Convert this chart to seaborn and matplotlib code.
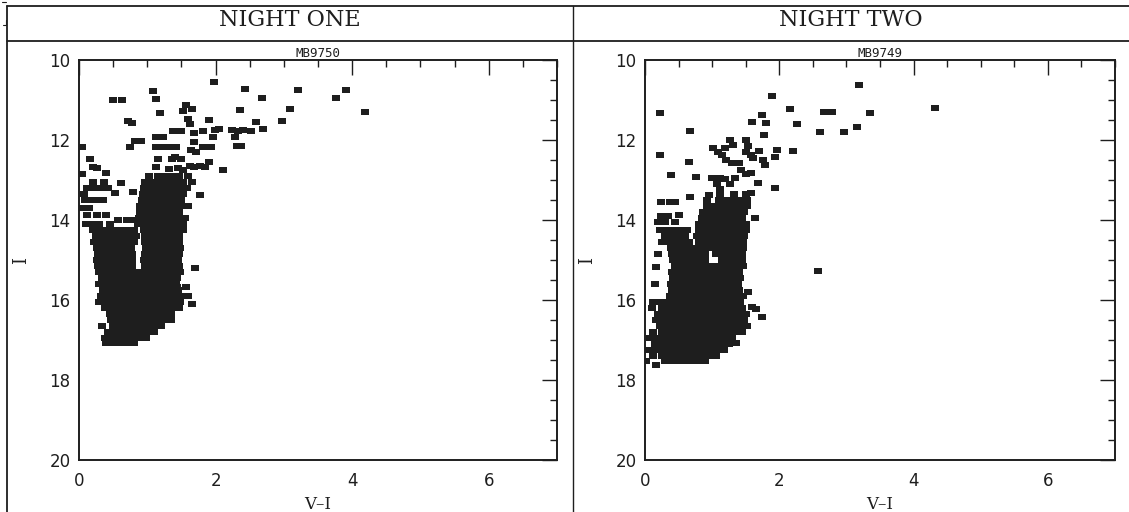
import matplotlib
matplotlib.use("Agg")
import matplotlib.pyplot as plt
from matplotlib.lines import Line2D
from matplotlib.ticker import MultipleLocator
import seaborn as sns
import pandas as pd

# ---------------- data (V-I, I) ----------------
panel_titles = ["NIGHT ONE", "NIGHT TWO"]
field_names = ["MB9750", "MB9749"]
x_ticks = [0, 2, 4, 6]
y_ticks = [10, 12, 14, 16, 18, 20]

night_one_bright = [
    (1.97, 10.55), (2.43, 10.73), (3.20, 10.75), (3.91, 10.75), (3.76, 10.94),
    (1.08, 10.77), (1.13, 10.98), (0.50, 11.00), (0.63, 11.00), (2.68, 10.96),
    (3.09, 11.23), (2.36, 11.25), (4.19, 11.31), (1.56, 11.12), (1.52, 11.27),
    (1.65, 11.23), (1.18, 11.33), (0.72, 11.52), (0.77, 11.58), (1.60, 11.48),
    (1.62, 11.60), (1.90, 11.50), (2.59, 11.54), (2.70, 11.73), (2.52, 11.77),
    (2.98, 11.52), (1.38, 11.77), (1.50, 11.77), (1.69, 11.83), (1.81, 11.78),
    (1.99, 11.75), (2.05, 11.73), (2.24, 11.75), (2.33, 11.77), (2.40, 11.75),
    (2.28, 11.92), (1.96, 11.93), (0.82, 12.02), (0.91, 12.02), (1.13, 11.92),
    (1.23, 11.92), (0.74, 12.18), (1.13, 12.17), (1.23, 12.17), (1.33, 12.17),
    (1.42, 12.17), (1.69, 12.04), (1.81, 12.17), (1.93, 12.17), (1.64, 12.25),
    (1.72, 12.29), (2.32, 12.15), (2.37, 12.15), (0.05, 12.18), (0.16, 12.48),
    (0.21, 12.68), (0.26, 12.71), (0.40, 12.83), (0.62, 13.08), (2.11, 12.75),
    (1.91, 12.55), (1.84, 12.67), (1.77, 12.65), (1.69, 12.68), (1.62, 12.65),
    (1.16, 12.48), (1.13, 12.67), (1.36, 12.47), (1.40, 12.42), (1.50, 12.47),
    (1.32, 12.73), (1.45, 12.70), (1.52, 12.75), (0.05, 12.85), (0.08, 13.35),
    (1.70, 15.21), (1.57, 15.67), (1.60, 15.90), (1.65, 16.10), (1.43, 15.67),
]

night_one_main = [
    # upper branch
    (1.02, 12.90), (1.15, 12.90), (1.28, 12.90), (1.36, 12.90), (1.47, 12.90), (1.60, 12.90),
    (0.97, 13.05), (1.08, 13.05), (1.20, 13.05), (1.30, 13.05), (1.41, 13.05), (1.52, 13.05), (1.66, 13.05),
    (0.95, 13.20), (1.04, 13.20), (1.14, 13.20), (1.25, 13.20), (1.35, 13.20), (1.46, 13.20), (1.58, 13.20),
    (0.93, 13.35), (1.03, 13.35), (1.13, 13.35), (1.22, 13.35), (1.32, 13.35), (1.42, 13.35), (1.52, 13.35), (1.77, 13.38),
    (0.92, 13.50), (1.01, 13.50), (1.10, 13.50), (1.20, 13.50), (1.30, 13.50), (1.40, 13.50), (1.50, 13.50),
    (0.90, 13.65), (1.00, 13.65), (1.09, 13.65), (1.19, 13.65), (1.28, 13.65), (1.38, 13.65), (1.48, 13.65), (1.60, 13.65),
    (0.90, 13.80), (0.99, 13.80), (1.08, 13.80), (1.18, 13.80), (1.27, 13.80), (1.37, 13.80), (1.46, 13.80),
    (0.88, 13.95), (0.97, 13.95), (1.07, 13.95), (1.16, 13.95), (1.26, 13.95), (1.36, 13.95), (1.45, 13.95), (1.55, 13.95),
    (0.86, 14.10), (0.95, 14.10), (1.05, 14.10), (1.14, 14.10), (1.24, 14.10), (1.33, 14.10), (1.43, 14.10), (1.52, 14.10),
    # left group
    (0.20, 13.05), (0.36, 13.05),
    (0.11, 13.20), (0.21, 13.20), (0.31, 13.20), (0.43, 13.20),
    (0.53, 13.33), (0.79, 13.29),
    (0.09, 13.50), (0.18, 13.50), (0.26, 13.50), (0.35, 13.50),
    (0.05, 13.70), (0.14, 13.70),
    (0.11, 13.87), (0.26, 13.87), (0.40, 13.87),
    (0.57, 14.00), (0.70, 14.00), (0.82, 14.00),
    (0.10, 14.10), (0.20, 14.10), (0.30, 14.10), (0.45, 14.10),
    # main sequence blob
    (0.21, 14.25), (0.30, 14.25), (0.40, 14.25), (0.50, 14.25), (0.60, 14.25), (0.70, 14.25), (0.80, 14.25),
    (0.95, 14.25), (1.05, 14.25), (1.15, 14.25), (1.25, 14.25), (1.35, 14.25), (1.45, 14.25), (1.52, 14.25),
    (0.25, 14.40), (0.35, 14.40), (0.45, 14.40), (0.55, 14.40), (0.65, 14.40), (0.75, 14.40), (0.83, 14.40),
    (0.96, 14.40), (1.06, 14.40), (1.16, 14.40), (1.26, 14.40), (1.36, 14.40), (1.46, 14.40),
    (0.22, 14.55), (0.32, 14.55), (0.42, 14.55), (0.52, 14.55), (0.62, 14.55), (0.72, 14.55), (0.80, 14.55),
    (0.97, 14.55), (1.07, 14.55), (1.17, 14.55), (1.27, 14.55), (1.37, 14.55), (1.47, 14.55),
    (0.26, 14.70), (0.36, 14.70), (0.46, 14.70), (0.56, 14.70), (0.66, 14.70), (0.76, 14.70),
    (0.98, 14.70), (1.08, 14.70), (1.18, 14.70), (1.28, 14.70), (1.38, 14.70), (1.48, 14.70),
    (0.28, 14.85), (0.38, 14.85), (0.48, 14.85), (0.58, 14.85), (0.68, 14.85), (0.78, 14.85),
    (0.96, 14.85), (1.06, 14.85), (1.16, 14.85), (1.26, 14.85), (1.36, 14.85), (1.46, 14.85),
    (0.27, 15.00), (0.37, 15.00), (0.47, 15.00), (0.57, 15.00), (0.67, 15.00), (0.77, 15.00),
    (0.95, 15.00), (1.05, 15.00), (1.15, 15.00), (1.25, 15.00), (1.35, 15.00), (1.45, 15.00),
    (0.28, 15.15), (0.38, 15.15), (0.48, 15.15), (0.58, 15.15), (0.68, 15.15), (0.78, 15.15),
    (0.97, 15.15), (1.07, 15.15), (1.17, 15.15), (1.27, 15.15), (1.37, 15.15), (1.47, 15.15),
    (0.30, 15.30), (0.40, 15.30), (0.50, 15.30), (0.60, 15.30), (0.70, 15.30), (0.80, 15.30), (0.90, 15.30),
    (1.00, 15.30), (1.10, 15.30), (1.20, 15.30), (1.30, 15.30), (1.40, 15.30), (1.48, 15.30),
    (0.33, 15.45), (0.43, 15.45), (0.53, 15.45), (0.63, 15.45), (0.73, 15.45), (0.83, 15.45),
    (0.93, 15.45), (1.03, 15.45), (1.13, 15.45), (1.23, 15.45), (1.33, 15.45), (1.43, 15.45),
    (0.30, 15.60), (0.40, 15.60), (0.50, 15.60), (0.60, 15.60), (0.70, 15.60), (0.80, 15.60),
    (0.90, 15.60), (1.00, 15.60), (1.10, 15.60), (1.20, 15.60), (1.30, 15.60), (1.42, 15.60),
    (0.35, 15.75), (0.45, 15.75), (0.55, 15.75), (0.65, 15.75), (0.75, 15.75), (0.85, 15.75),
    (0.95, 15.75), (1.05, 15.75), (1.15, 15.75), (1.25, 15.75), (1.35, 15.75), (1.45, 15.75),
    (0.32, 15.90), (0.42, 15.90), (0.52, 15.90), (0.62, 15.90), (0.72, 15.90), (0.82, 15.90), (0.92, 15.90),
    (1.02, 15.90), (1.12, 15.90), (1.22, 15.90), (1.32, 15.90), (1.42, 15.90), (1.50, 15.90),
    (0.30, 16.05), (0.40, 16.05), (0.50, 16.05), (0.60, 16.05), (0.70, 16.05), (0.80, 16.05), (0.90, 16.05),
    (1.00, 16.05), (1.10, 16.05), (1.20, 16.05), (1.30, 16.05), (1.40, 16.05), (1.48, 16.05),
    (0.38, 16.20), (0.48, 16.20), (0.58, 16.20), (0.68, 16.20), (0.78, 16.20), (0.88, 16.20),
    (0.98, 16.20), (1.08, 16.20), (1.18, 16.20), (1.28, 16.20), (1.38, 16.20), (1.47, 16.20),
    (0.45, 16.35), (0.55, 16.35), (0.65, 16.35), (0.75, 16.35), (0.85, 16.35),
    (0.95, 16.35), (1.05, 16.35), (1.15, 16.35), (1.25, 16.35), (1.35, 16.35),
    (0.47, 16.50), (0.57, 16.50), (0.67, 16.50), (0.77, 16.50), (0.87, 16.50),
    (0.97, 16.50), (1.07, 16.50), (1.17, 16.50), (1.27, 16.50), (1.35, 16.50),
    (0.33, 16.65), (0.50, 16.65), (0.60, 16.65), (0.70, 16.65), (0.80, 16.65),
    (0.90, 16.65), (1.00, 16.65), (1.10, 16.65), (1.20, 16.65),
    (0.42, 16.80), (0.52, 16.80), (0.62, 16.80), (0.72, 16.80), (0.82, 16.80), (0.92, 16.80), (1.02, 16.80), (1.10, 16.80),
    (0.38, 16.95), (0.48, 16.95), (0.58, 16.95), (0.68, 16.95), (0.78, 16.95), (0.88, 16.95), (0.98, 16.95),
    (0.40, 17.08), (0.50, 17.08), (0.60, 17.08), (0.70, 17.08), (0.80, 17.08),
]

night_two_bright = [
    (3.19, 10.63), (4.32, 11.19), (1.89, 10.90), (2.16, 11.23), (2.66, 11.29),
    (2.78, 11.31), (3.35, 11.32), (0.22, 11.33), (1.74, 11.38), (1.80, 11.57),
    (1.59, 11.54), (2.27, 11.61), (2.60, 11.79), (2.96, 11.79), (3.16, 11.68),
    (1.77, 11.88), (0.67, 11.77), (0.22, 12.38), (0.66, 12.54), (0.38, 12.88),
    (0.76, 12.92), (0.67, 13.42), (1.26, 12.00), (1.31, 12.13), (1.02, 12.20),
    (1.09, 12.30), (1.14, 12.38), (1.19, 12.20), (1.51, 12.00), (1.54, 12.15),
    (1.51, 12.30), (1.58, 12.38), (1.61, 12.45), (1.70, 12.27), (1.96, 12.25),
    (1.93, 12.42), (2.20, 12.27), (1.76, 12.50), (1.78, 12.62), (1.20, 12.50),
    (1.30, 12.58), (1.40, 12.58), (1.43, 12.75), (1.50, 12.85), (1.58, 12.82),
    (1.93, 13.19), (1.69, 13.07), (2.58, 15.27),
]

night_two_main = [
    (1.00, 12.95), (1.12, 12.95), (1.19, 12.98), (1.34, 12.95),
    (1.07, 13.10), (1.27, 13.10),
    (1.12, 13.22), (0.95, 13.38), (1.12, 13.35), (1.32, 13.35), (1.51, 13.35), (1.58, 13.32),
    (0.92, 13.50), (1.10, 13.50), (1.20, 13.50), (1.32, 13.50), (1.42, 13.50), (1.52, 13.50),
    (0.24, 13.55), (0.37, 13.55), (0.45, 13.55),
    (0.92, 13.65), (1.02, 13.65), (1.12, 13.65), (1.22, 13.65), (1.32, 13.65), (1.42, 13.65), (1.52, 13.65),
    (0.87, 13.80), (0.98, 13.80), (1.08, 13.80), (1.18, 13.80), (1.28, 13.80), (1.38, 13.80), (1.48, 13.80),
    (0.24, 13.90), (0.34, 13.90), (0.51, 13.88),
    (0.85, 13.95), (0.95, 13.95), (1.05, 13.95), (1.15, 13.95), (1.25, 13.95), (1.35, 13.95), (1.45, 13.95), (1.64, 13.96),
    (0.20, 14.05), (0.30, 14.05), (0.44, 14.05),
    (0.80, 14.10), (0.90, 14.10), (1.00, 14.10), (1.10, 14.10), (1.20, 14.10), (1.30, 14.10), (1.40, 14.10), (1.50, 14.10),
    (0.22, 14.25), (0.32, 14.25), (0.42, 14.25), (0.52, 14.25), (0.62, 14.25), (0.80, 14.25), (0.90, 14.25),
    (1.00, 14.25), (1.10, 14.25), (1.20, 14.25), (1.30, 14.25), (1.40, 14.25), (1.50, 14.25),
    (0.30, 14.40), (0.40, 14.40), (0.50, 14.40), (0.60, 14.40), (0.78, 14.40), (0.88, 14.40),
    (0.98, 14.40), (1.08, 14.40), (1.18, 14.40), (1.28, 14.40), (1.38, 14.40), (1.48, 14.40),
    (0.25, 14.55), (0.35, 14.55), (0.45, 14.55), (0.55, 14.55), (0.65, 14.55), (0.80, 14.55), (0.90, 14.55),
    (1.00, 14.55), (1.10, 14.55), (1.20, 14.55), (1.30, 14.55), (1.40, 14.55), (1.46, 14.55),
    (0.38, 14.70), (0.48, 14.70), (0.58, 14.70), (0.68, 14.70), (0.78, 14.70), (0.88, 14.70),
    (0.98, 14.70), (1.08, 14.70), (1.18, 14.70), (1.28, 14.70), (1.38, 14.70), (1.46, 14.70),
    (0.20, 14.85), (0.40, 14.85), (0.50, 14.85), (0.60, 14.85), (0.70, 14.85), (0.80, 14.85), (0.90, 14.85),
    (1.06, 14.85), (1.14, 14.85), (1.24, 14.85), (1.34, 14.85), (1.44, 14.85),
    (0.42, 15.00), (0.52, 15.00), (0.62, 15.00), (0.72, 15.00), (0.82, 15.00), (0.90, 15.00),
    (1.14, 15.00), (1.24, 15.00), (1.34, 15.00), (1.44, 15.00),
    (0.17, 15.18), (0.45, 15.15), (0.55, 15.15), (0.65, 15.15), (0.75, 15.15), (0.85, 15.15), (0.95, 15.15),
    (1.05, 15.15), (1.15, 15.15), (1.25, 15.15), (1.35, 15.15), (1.46, 15.15),
    (0.40, 15.30), (0.50, 15.30), (0.60, 15.30), (0.70, 15.30), (0.80, 15.30), (0.90, 15.30),
    (1.00, 15.30), (1.10, 15.30), (1.20, 15.30), (1.30, 15.30), (1.40, 15.30),
    (0.42, 15.45), (0.52, 15.45), (0.62, 15.45), (0.72, 15.45), (0.82, 15.45), (0.92, 15.45),
    (1.02, 15.45), (1.12, 15.45), (1.22, 15.45), (1.32, 15.45), (1.42, 15.45),
    (0.15, 15.60), (0.38, 15.60), (0.48, 15.60), (0.58, 15.60), (0.68, 15.60), (0.78, 15.60), (0.88, 15.60),
    (0.98, 15.60), (1.08, 15.60), (1.18, 15.60), (1.28, 15.60), (1.38, 15.60),
    (0.40, 15.75), (0.50, 15.75), (0.60, 15.75), (0.70, 15.75), (0.80, 15.75), (0.90, 15.75),
    (1.00, 15.75), (1.10, 15.75), (1.20, 15.75), (1.30, 15.75), (1.40, 15.75), (1.54, 15.80),
    (0.37, 15.90), (0.47, 15.90), (0.57, 15.90), (0.67, 15.90), (0.77, 15.90), (0.87, 15.90),
    (0.97, 15.90), (1.07, 15.90), (1.17, 15.90), (1.27, 15.90), (1.37, 15.90), (1.46, 15.90),
    (0.12, 16.05), (0.22, 16.05), (0.32, 16.05), (0.42, 16.05), (0.52, 16.05), (0.62, 16.05), (0.72, 16.05),
    (0.82, 16.05), (0.92, 16.05), (1.02, 16.05), (1.12, 16.05), (1.22, 16.05), (1.32, 16.05), (1.42, 16.05),
    (0.10, 16.20), (0.25, 16.20), (0.35, 16.20), (0.45, 16.20), (0.55, 16.20), (0.65, 16.20), (0.75, 16.20),
    (0.85, 16.20), (0.95, 16.20), (1.05, 16.20), (1.15, 16.20), (1.25, 16.20), (1.35, 16.20), (1.45, 16.20),
    (1.59, 16.17), (1.66, 16.22),
    (0.20, 16.35), (0.30, 16.35), (0.40, 16.35), (0.50, 16.35), (0.60, 16.35), (0.70, 16.35), (0.80, 16.35),
    (0.90, 16.35), (1.00, 16.35), (1.10, 16.35), (1.20, 16.35), (1.30, 16.35), (1.40, 16.35), (1.50, 16.35),
    (0.17, 16.50), (0.27, 16.50), (0.37, 16.50), (0.47, 16.50), (0.57, 16.50), (0.67, 16.50), (0.77, 16.50),
    (0.87, 16.50), (0.97, 16.50), (1.07, 16.50), (1.17, 16.50), (1.27, 16.50), (1.37, 16.50), (1.47, 16.50),
    (1.74, 16.42),
    (0.22, 16.65), (0.32, 16.65), (0.42, 16.65), (0.52, 16.65), (0.62, 16.65), (0.72, 16.65), (0.82, 16.65),
    (0.92, 16.65), (1.02, 16.65), (1.12, 16.65), (1.22, 16.65), (1.32, 16.65), (1.42, 16.65), (1.52, 16.65),
    (0.12, 16.80), (0.25, 16.80), (0.35, 16.80), (0.45, 16.80), (0.55, 16.80), (0.65, 16.80), (0.75, 16.80),
    (0.85, 16.80), (0.95, 16.80), (1.05, 16.80), (1.15, 16.80), (1.25, 16.80), (1.35, 16.80), (1.45, 16.80),
    (0.07, 16.95), (0.20, 16.95), (0.30, 16.95), (0.40, 16.95), (0.50, 16.95), (0.60, 16.95), (0.70, 16.95),
    (0.80, 16.95), (0.90, 16.95), (1.00, 16.95), (1.10, 16.95), (1.20, 16.95), (1.30, 16.95),
    (0.15, 17.10), (0.25, 17.10), (0.35, 17.10), (0.45, 17.10), (0.55, 17.10), (0.65, 17.10), (0.75, 17.10),
    (0.85, 17.10), (0.95, 17.10), (1.05, 17.10), (1.15, 17.10), (1.25, 17.10), (1.36, 17.08),
    (0.06, 17.25), (0.18, 17.25), (0.28, 17.25), (0.38, 17.25), (0.48, 17.25), (0.58, 17.25),
    (0.68, 17.25), (0.78, 17.25), (0.88, 17.25), (0.98, 17.25), (1.08, 17.25), (1.18, 17.25),
    (0.12, 17.40), (0.25, 17.40), (0.35, 17.40), (0.45, 17.40), (0.55, 17.40), (0.65, 17.40),
    (0.75, 17.40), (0.85, 17.40), (0.95, 17.40), (1.05, 17.40),
    (0.02, 17.52), (0.30, 17.52), (0.40, 17.52), (0.50, 17.52), (0.60, 17.52), (0.70, 17.52),
    (0.80, 17.52), (0.90, 17.52),
    (0.17, 17.62),
]

# ---------------- build tidy frames ----------------
def to_frame(*groups):
    rows = [p for g in groups for p in g]
    return pd.DataFrame(rows, columns=["V-I", "I"])

frames = [to_frame(night_one_bright, night_one_main),
          to_frame(night_two_bright, night_two_main)]

# ---------------- styling ----------------
sns.set_theme(style="white")
plt.rcParams["font.family"] = ["DejaVu Sans"]
ink = "#1e1e1e"

# near-square marker, a touch wider than tall, like the plotted star boxes
star_marker = [(-1.0, -0.85), (1.0, -0.85), (1.0, 0.85), (-1.0, 0.85), (-1.0, -0.85)]

W, H = 1129, 512
fig = plt.figure(figsize=(W / 100, H / 100), dpi=100)
fig.patch.set_facecolor("white")

axes_px = [(79, 557), (645, 1115)]
top_px, bot_px = 60, 460
header_centres = [290, 851]

for k, (x0, x1) in enumerate(axes_px):
    ax = fig.add_axes([x0 / W, 1 - bot_px / H, (x1 - x0) / W, (bot_px - top_px) / H])
    sns.scatterplot(data=frames[k], x="V-I", y="I", ax=ax, marker=star_marker, s=30,
                    color=ink, linewidth=0, legend=False)
    ax.set_xlim(0, 7)
    ax.set_ylim(20, 10)
    ax.set_xticks(x_ticks)
    ax.set_yticks(y_ticks)
    ax.xaxis.set_minor_locator(MultipleLocator(0.5))
    ax.yaxis.set_minor_locator(MultipleLocator(0.5))
    ax.tick_params(which="both", direction="in", top=True, right=True,
                   color=ink, width=1.0)
    ax.tick_params(which="major", length=11, labelsize=12, labelcolor=ink)
    ax.tick_params(which="minor", length=5)
    ax.tick_params(axis="x", which="major", pad=9)
    ax.tick_params(axis="y", which="major", pad=6)
    for sp in ax.spines.values():
        sp.set_color(ink)
        sp.set_linewidth(1.4)
        sp.set_visible(True)
    ax.set_xlabel("V\u2013I", family="DejaVu Serif", fontsize=12, color=ink, labelpad=4)
    ax.set_ylabel("I", family="DejaVu Serif", fontsize=13, color=ink, labelpad=14)
    ax.set_title(field_names[k], family="DejaVu Sans Mono", fontsize=9, color=ink, pad=2)
    ax.grid(False)
    ax.set_facecolor("white")
    fig.text(header_centres[k] / W, 1 - 20 / H, panel_titles[k], family="DejaVu Serif",
             fontsize=16, color=ink, ha="center", va="center")

# outer frame lines
def fline(xs, ys, lw=1.3):
    fig.add_artist(Line2D([x / W for x in xs], [1 - y / H for y in ys],
                          color=ink, linewidth=lw, transform=fig.transFigure))

fline([7, W], [6, 6])
fline([7, W], [41, 41])
fline([7, 7], [6, H])
fline([573, 573], [6, H], lw=1.0)
fline([2, 6], [2, 2], lw=0.8)
fline([6, 6], [20, 25], lw=0.8)
fline([3, 6], [25, 25], lw=0.8)

fig.savefig("out.png", dpi=100, facecolor="white")
